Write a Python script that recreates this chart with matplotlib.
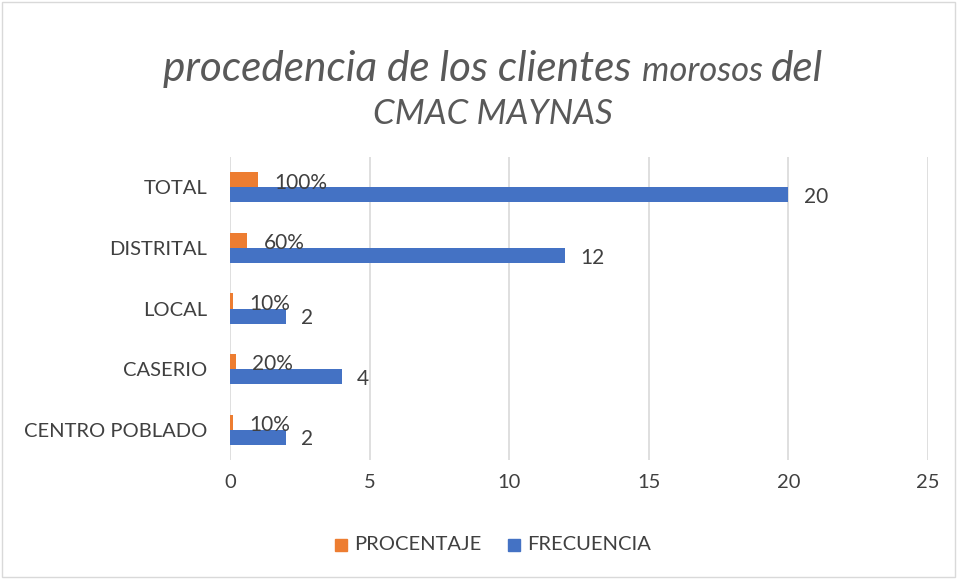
import matplotlib
matplotlib.use("Agg")
import matplotlib.pyplot as plt
import numpy as np
from matplotlib.patches import Rectangle

categories = ["CENTRO POBLADO", "CASERIO", "LOCAL", "DISTRITAL", "TOTAL"]
frecuencia = [2, 4, 2, 12, 20]
porcentaje = [0.1, 0.2, 0.1, 0.6, 1.0]
porcentaje_labels = ["10%", "20%", "10%", "60%", "100%"]
xticks = [0, 5, 10, 15, 20, 25]

FONT = ["Lato", "DejaVu Sans"]
plt.rcParams['font.family'] = FONT
TXT = "#404040"

fig = plt.figure(figsize=(9.58, 5.79), dpi=100)
ax = fig.add_axes([230/958, 1-460/579, 698/958, 303/579])

y = np.arange(len(categories))
h = 0.25
ax.barh(y + h/2, porcentaje, height=h, color="#ED7D31", zorder=3)
ax.barh(y - h/2, frecuencia, height=h, color="#4472C4", zorder=3)

for yi, v, lab in zip(y, porcentaje, porcentaje_labels):
    ax.annotate(lab, (v, yi + h/2), xytext=(12, -2), textcoords="offset points",
                ha="left", va="center", fontsize=15, color=TXT)
for yi, v in zip(y, frecuencia):
    ax.annotate(str(v), (v, yi - h/2), xytext=(11, -1.5), textcoords="offset points",
                ha="left", va="center", fontsize=15, color=TXT)

ax.set_xlim(0, 25)
ax.set_ylim(-0.5, 4.5)
ax.set_xticks(xticks)
ax.set_yticks(y)
ax.set_yticklabels(categories)
ax.tick_params(axis="both", length=0, labelsize=14.5, labelcolor=TXT)
ax.tick_params(axis="x", pad=10)
ax.tick_params(axis="y", pad=16.5)
ax.grid(axis="x", color="#D9D9D9", linewidth=1.2, zorder=0)
for s in ax.spines.values():
    s.set_visible(False)

# Title with mixed sizes
tcol = "#595959"
parts = [("procedencia de los clientes ", 30.5), ("morosos ", 25), ("del", 30.5)]
texts = []
for s, fs in parts:
    texts.append(fig.text(0, 1-81/579, s, fontsize=fs, style="italic", color=tcol,
                          ha="left", va="baseline"))
fig.canvas.draw()
r = fig.canvas.get_renderer()
widths = [t.get_window_extent(r).width for t in texts]
total = sum(widths)
x0 = 493 - total/2
for t, w in zip(texts, widths):
    t.set_x(x0/958)
    x0 += w
fig.text(493/958, 1-124/579, "CMAC MAYNAS", fontsize=25, style="italic", color=tcol,
         ha="center", va="baseline")

# Legend
leg_y = 545
fig.patches.append(Rectangle((335/958, 1-(leg_y+6)/579), 12/958, 12/579,
                             transform=fig.transFigure, color="#ED7D31"))
fig.text(354/958, 1-leg_y/579, "PROCENTAJE", fontsize=14.5, color=TXT, va="center")
fig.patches.append(Rectangle((508/958, 1-(leg_y+6)/579), 12/958, 12/579,
                             transform=fig.transFigure, color="#4472C4"))
fig.text(527/958, 1-leg_y/579, "FRECUENCIA", fontsize=14.5, color=TXT, va="center")

# Border
fig.patches.append(Rectangle((0.002, 0.003), 0.995, 0.993, transform=fig.transFigure,
                             fill=False, edgecolor="#D9D9D9", linewidth=1))

fig.savefig("out.png", dpi=100)
